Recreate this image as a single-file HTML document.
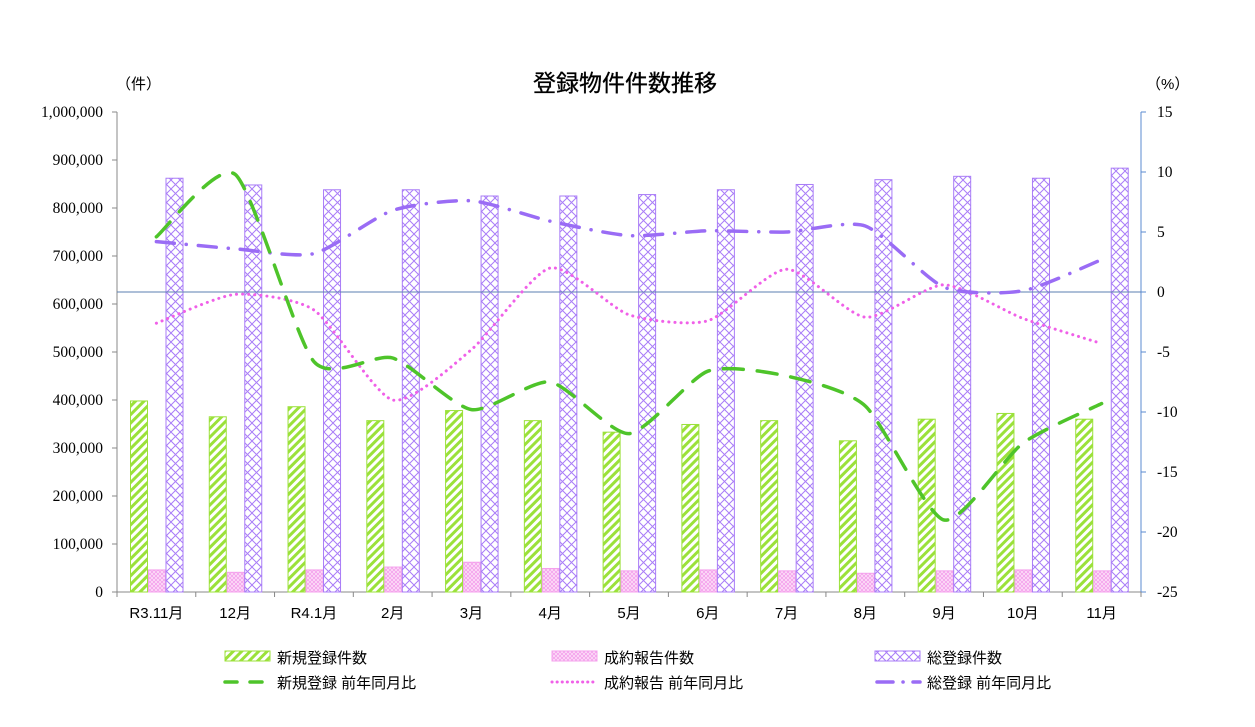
<!DOCTYPE html>
<html><head><meta charset="utf-8"><style>
body{margin:0;background:#fff;}
svg{display:block;}
text{font-family:"Liberation Serif","Noto Serif CJK SC",serif;font-size:15.5px;fill:#000;}
.s{font-family:"Liberation Sans","Noto Sans CJK JP",sans-serif;font-size:15px;}
</style></head><body>
<svg id="c" width="1255" height="727" xmlns="http://www.w3.org/2000/svg">
<defs>
<pattern id="pg" width="6" height="6" patternUnits="userSpaceOnUse" patternTransform="rotate(45)">
<rect width="6" height="6" fill="#fff"/><rect width="3" height="6" fill="#9be13a"/></pattern>
<pattern id="pp" width="4" height="4" patternUnits="userSpaceOnUse">
<rect width="4" height="4" fill="#fde0f8"/><path d="M0 0L4 4M4 0L0 4" stroke="#f4a0ec" stroke-width="0.8"/></pattern>
<pattern id="pu" width="9" height="9" patternUnits="userSpaceOnUse">
<rect width="9" height="9" fill="#fff"/><path d="M0 0L9 9M9 0L0 9" stroke="#a97cf7" stroke-width="1"/></pattern>
</defs>
<text x="625" y="91" text-anchor="middle" class="s" style="font-size:23px;stroke:#000;stroke-width:0.3">登録物件件数推移</text>
<text x="116" y="89" class="s" style="font-size:15px">（件）</text>
<text x="1146" y="89" class="s" style="font-size:15px">（%）</text>
<g id="g"></g>
</svg>
<script>
const NS="http://www.w3.org/2000/svg",g=document.getElementById('g');
function el(t,a,txt){const e=document.createElementNS(NS,t);for(const k in a)e.setAttribute(k,a[k]);if(txt!==undefined)e.textContent=txt;g.appendChild(e);return e;}
const L=117,R=1141,T=112,B=592,W=(R-L)/13;
const yl=v=>B-v*0.00048, yr=p=>292-p*12;
el('line',{x1:L,y1:T,x2:L,y2:B,stroke:'#888'});
for(let i=0;i<=10;i++){const y=B-i*48;el('line',{x1:L-5,y1:y,x2:L,y2:y,stroke:'#888'});
el('text',{x:L-14,y:y+5,'text-anchor':'end'},i==0?'0':(i*100000).toLocaleString('en-US'));}
el('line',{x1:R,y1:T,x2:R,y2:B,stroke:'#5b8bd0'});
for(let p=15;p>=-25;p-=5){const y=yr(p);el('line',{x1:R,y1:y,x2:R+5,y2:y,stroke:'#5b8bd0'});
el('text',{x:R+16,y:y+5},String(p));}
el('line',{x1:L,y1:B,x2:R,y2:B,stroke:'#888'});
for(let i=0;i<=13;i++){const x=L+i*W;el('line',{x1:x,y1:B,x2:x,y2:B+5,stroke:'#888'});}
const cats=['R3.11月','12月','R4.1月','2月','3月','4月','5月','6月','7月','8月','9月','10月','11月'];
cats.forEach((c,i)=>el('text',{x:L+W*(i+0.5),y:618,'text-anchor':'middle',class:'s'},c));
const G=[398,365,386,357,378,357,333,349,357,315,360,372,360],P=[46,41,46,52,62,49,44,46,44,39,44,46,44],U=[862,848,838,838,825,825,828,838,849,859,866,862,883];
for(let i=0;i<13;i++){const x0=L+i*W;
[[G,'url(#pg)','#9be13a',13],[P,'url(#pp)','#f4a0ec',31],[U,'url(#pu)','#a97cf7',48.5]].forEach(([d,f,s,o])=>{
const y=yl(d[i]*1000);el('rect',{x:x0+o+0.5,y:y,width:17,height:B-y,fill:f,stroke:s,'stroke-width':1});});}
el('line',{x1:L,y1:292,x2:R,y2:292,stroke:'#5b7fb0','stroke-width':1});
function path(d){const p=d.map((v,i)=>[L+W*(i+0.5),yr(v)]);let s=`M${p[0]}`;const k=9;
for(let i=0;i<p.length-1;i++){const a=p[i-1]||p[i],b=p[i],c=p[i+1],e=p[i+2]||c;
s+=`C${b[0]+(c[0]-a[0])/k},${b[1]+(c[1]-a[1])/k} ${c[0]-(e[0]-b[0])/k},${c[1]-(e[1]-b[1])/k} ${c[0]},${c[1]}`;}return s;}
const GL=[4.6,9.8,-5.8,-5.5,-9.8,-7.5,-11.8,-6.6,-7,-9.5,-19,-12.6,-9.3],
PL=[-2.6,-0.2,-1.5,-9,-4.8,2,-1.9,-2.4,1.9,-2.1,0.6,-2.2,-4.3],
UL=[4.2,3.6,3.2,6.8,7.6,5.9,4.7,5.1,5,5.5,0.4,0.1,2.7];
el('path',{d:path(PL),fill:'none',stroke:'#f060e8','stroke-width':3,'stroke-dasharray':'0.1 6','stroke-linecap':'round'});
el('path',{d:path(UL),fill:'none',stroke:'#9a6cf5','stroke-width':3.5,'stroke-dasharray':'18 12 0.1 12','stroke-linecap':'round'});
el('path',{d:path(GL),fill:'none',stroke:'#4ec42a','stroke-width':3.5,'stroke-dasharray':'20 14','stroke-linecap':'round'});
const lg=[[225,'新規登録件数','url(#pg)','#9be13a'],[552,'成約報告件数','url(#pp)','#f4a0ec'],[875,'総登録件数','url(#pu)','#a97cf7']];
lg.forEach(([x,t,f,s])=>{el('rect',{x:x,y:651,width:45,height:10,fill:f,stroke:s});el('text',{x:x+52,y:663,class:'s'},t);});
el('line',{x1:225,y1:682,x2:270,y2:682,stroke:'#4ec42a','stroke-width':3.5,'stroke-dasharray':'12 13','stroke-linecap':'round'});
el('text',{x:277,y:688,class:'s'},'新規登録 前年同月比');
el('line',{x1:552,y1:682,x2:597,y2:682,stroke:'#f060e8','stroke-width':3,'stroke-dasharray':'0.1 5','stroke-linecap':'round'});
el('text',{x:604,y:688,class:'s'},'成約報告 前年同月比');
el('path',{d:'M877 682H893M903 682H903.1M913 682H920',stroke:'#9a6cf5','stroke-width':3.5,'stroke-linecap':'round'});
el('text',{x:927,y:688,class:'s'},'総登録 前年同月比');
</script>
</body></html>
